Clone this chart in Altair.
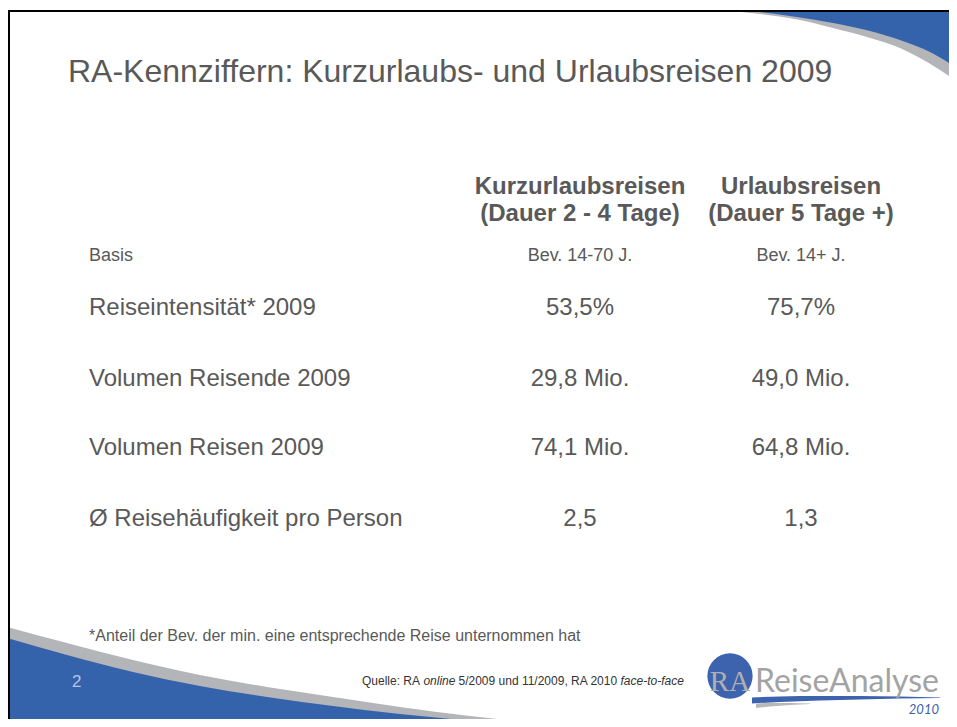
import altair as alt
import pandas as pd

# ---------------- content ----------------
title = "RA-Kennziffern: Kurzurlaubs- und Urlaubsreisen 2009"
col_head_1 = ["Kurzurlaubsreisen", "Urlaubsreisen"]
col_head_2 = ["(Dauer 2 - 4 Tage)", "(Dauer 5 Tage +)"]
row_labels = ["Basis", "Reiseintensität* 2009", "Volumen Reisende 2009",
              "Volumen Reisen 2009", "Ø Reisehäufigkeit pro Person"]
kurz_values = ["Bev. 14-70 J.", "53,5%", "29,8 Mio.", "74,1 Mio.", "2,5"]
urlaub_values = ["Bev. 14+ J.", "75,7%", "49,0 Mio.", "64,8 Mio.", "1,3"]
footnote = "*Anteil der Bev. der min. eine entsprechende Reise unternommen hat"
page_number = "2"
source_normal = ["Quelle: RA", "5/2009 und 11/2009, RA 2010"]
source_italic = ["online", "face-to-face"]
logo_ra = "RA"
logo_name = "ReiseAnalyse"
logo_year = "2010"

# ---------------- layout (page pixel coordinates) ----------------
col_x = [89, 580, 801]
row_base = [261, 315, 386, 455, 526]
row_size = [18, 24, 24, 24, 24]
head_base = [194, 221]
src_normal_x = [362, 458.5]
src_italic_x = [423.4, 620.5]

# decorative swooshes
tr_gray_x = [728, 760, 800, 833, 867, 900, 920, 940, 960]
tr_gray_y = [11, 14, 20, 28, 37, 48, 58, 70, 84]
tr_blue_x = [752, 790, 833, 870, 900, 930, 960]
tr_blue_y = [11, 16, 23, 31, 40, 52, 70]
bl_gray_x = [0, 67, 133, 200, 267, 333, 400, 470, 540, 620]
bl_gray_y = [625, 643, 660, 675, 687, 697, 707, 716, 723, 728]
bl_blue_x = [0, 67, 133, 200, 267, 333, 400, 460, 520]
bl_blue_y = [636, 655, 672, 686, 697, 706, 714, 720, 728]
sw_x = [752, 780, 820, 860, 900, 940]
sw_top = [697.5, 696.5, 696, 696, 696.5, 697.5]
sw_bot = [703.5, 702, 700.5, 699.5, 698.5, 698]
sw2_x = [756, 770, 790, 810]
sw2_top = [703.5, 703, 703, 703.5]
sw2_bot = [708, 706.5, 705, 704]

W, H = 941, 711
X0, Y0 = 8, 8
xs = alt.Scale(domain=[X0, X0 + W], nice=False, zero=False)
ys = alt.Scale(domain=[Y0, Y0 + H], nice=False, zero=False, reverse=True)
FONT = "Liberation Sans"
GREY = "#595959"
BLUE = "#3563ab"
SWGRAY = "#b3b5b8"


def X(f="x"):
    return alt.X(f"{f}:Q", scale=xs, axis=None)


def Y(f="y"):
    return alt.Y(f"{f}:Q", scale=ys, axis=None)


def area(xv, yv, y2v, color):
    df = pd.DataFrame({"x": xv, "y": yv, "y2": y2v})
    return alt.Chart(df).mark_area(color=color, interpolate="monotone",
                                   orient="vertical", clip=True, opacity=1).encode(
        x=X(), y=Y(), y2="y2:Q")


layers = []
layers.append(area(tr_gray_x, tr_gray_y, [11] * len(tr_gray_x), SWGRAY))
layers.append(area(tr_blue_x, tr_blue_y, [11] * len(tr_blue_x), BLUE))
layers.append(area(bl_gray_x, bl_gray_y, [740] * len(bl_gray_x), SWGRAY))
layers.append(area(bl_blue_x, bl_blue_y, [740] * len(bl_blue_x), BLUE))

# slide border (top and left)
border = pd.DataFrame({"x": [8, 9], "x2": [960, 9], "y": [11, 11], "y2": [11, 740]})
layers.append(alt.Chart(border).mark_rule(color="#000000", strokeWidth=2, clip=True).encode(
    x=X(), x2="x2:Q", y=Y(), y2="y2:Q"))


def text(df, **kw):
    base = dict(font=FONT, color=GREY, baseline="alphabetic")
    base.update(kw)
    return alt.Chart(df).mark_text(**base).encode(
        x=X(), y=Y(), text="t:N", size=alt.Size("s:Q", scale=None, legend=None))


# title
layers.append(text(pd.DataFrame({"x": [68], "y": [82], "t": [title], "s": [32]}), align="left"))

# column headers
hdr = pd.DataFrame({
    "x": [col_x[1], col_x[2], col_x[1], col_x[2]],
    "y": [head_base[0], head_base[0], head_base[1], head_base[1]],
    "t": col_head_1 + col_head_2,
    "s": [24] * 4,
})
layers.append(text(hdr, align="center", fontWeight="bold"))

# row labels
lab = pd.DataFrame({"x": [col_x[0]] * len(row_labels), "y": row_base, "t": row_labels, "s": row_size})
layers.append(text(lab, align="left"))

# values
vals = pd.DataFrame({
    "x": [col_x[1]] * len(kurz_values) + [col_x[2]] * len(urlaub_values),
    "y": row_base + row_base,
    "t": kurz_values + urlaub_values,
    "s": row_size + row_size,
})
layers.append(text(vals, align="center"))

# footnote
layers.append(text(pd.DataFrame({"x": [89], "y": [641], "t": [footnote], "s": [16]}), align="left"))

# page number
layers.append(text(pd.DataFrame({"x": [72], "y": [687], "t": [page_number], "s": [17]}),
                   align="left", color="#b4c5e6"))

# source line
layers.append(text(pd.DataFrame({"x": src_normal_x, "y": [685, 685], "t": source_normal, "s": [12, 12]}),
                   align="left", color="#333333"))
layers.append(text(pd.DataFrame({"x": src_italic_x, "y": [685, 685], "t": source_italic, "s": [12, 12]}),
                   align="left", color="#333333", fontStyle="italic"))

# logo
circ = pd.DataFrame({"x": [730], "y": [676]})
layers.append(alt.Chart(circ).mark_circle(size=2050, color="#3d62ae", opacity=1).encode(x=X(), y=Y()))
layers.append(area(sw_x, sw_top, sw_bot, "#3d62ae"))
layers.append(area(sw2_x, sw2_top, sw2_bot, "#b8b8b8"))
layers.append(text(pd.DataFrame({"x": [730], "y": [691], "t": [logo_ra], "s": [29]}),
                   align="center", font="Liberation Serif", color="#b0b0b0"))
layers.append(text(pd.DataFrame({"x": [755], "y": [692], "t": [logo_name], "s": [32]}),
                   align="left", font="Lato", color="#a3a3a3"))
layers.append(text(pd.DataFrame({"x": [939], "y": [714], "t": [logo_year], "s": [13]}),
                   align="right", font="Lato", color="#3d62ae", fontStyle="italic"))

chart = alt.layer(*layers).properties(
    width=W, height=H, padding=0, autosize=alt.AutoSizeParams(type="none"),
    background="#ffffff",
).configure_view(stroke=None)

chart.save("out.html", embed_options={"renderer": "svg", "actions": False})
